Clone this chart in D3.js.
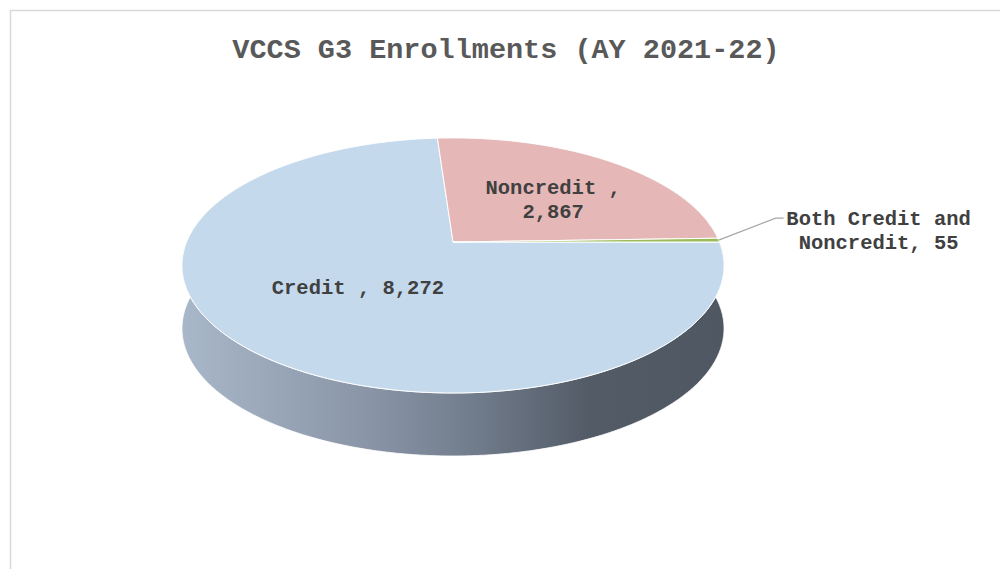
<!DOCTYPE html>
<html>
<head>
<meta charset="utf-8">
<script src="https://cdn.jsdelivr.net/npm/d3@7"></script>
<style>
  body { margin: 0; background: #fff; }
  svg { display: block; }
</style>
</head>
<body>
<svg id="chart" width="1000" height="569"></svg>
<script>
// data
const categories = ["Credit ", "Noncredit ", "Both Credit and Noncredit"]
const values = [8272, 2867, 55]
const labelLines = [["Credit , 8,272"], ["Noncredit ,", "2,867"], ["Both Credit and", "Noncredit, 55"]]
const title = "VCCS G3 Enrollments (AY 2021-22)"

const colors = ["#C5D9ED", "#E5B8B7", "#9BBB59"]

const svg = d3.select("#chart")
const width = +svg.attr("width")
const height = +svg.attr("height")

// chart frame
svg.append("rect")
  .attr("x", 10.5).attr("y", 10.5)
  .attr("width", width + 20).attr("height", height + 20)
  .attr("fill", "#fff")
  .attr("stroke", "#D9D9D9")
  .attr("stroke-width", 1.5)

svg.append("text")
  .attr("x", 506).attr("y", 58)
  .attr("text-anchor", "middle")
  .attr("font-family", "'Courier New', 'Liberation Mono', monospace")
  .attr("font-weight", "bold")
  .attr("font-size", "28.5px")
  .attr("fill", "#595959")
  .text(title)

// simple perspective camera for the top of the 3d pie
const cx = 453, cy = 242
const a = 266.4          // screen radius at the pie centre depth
const k = 0.184          // perspective strength
const phi = Math.asin(0.4625)
const depthPx = 63       // wall height on screen
const dist = Math.cos(phi) / k
const F = a * dist

function proj(theta, r, drop) {
  const xn = r * Math.sin(theta)
  const z = -r * Math.cos(theta)
  const depth = dist - z * Math.cos(phi)
  return [cx + F * xn / depth, cy + F * z * Math.sin(phi) / depth + drop]
}

const pie = d3.pie().sort(null)
  .startAngle(Math.PI / 2)
  .endAngle(Math.PI / 2 + 2 * Math.PI)
const arcs = pie(values)

const line = d3.line()

function arcPoints(a0, a1, drop) {
  const n = Math.max(2, Math.ceil(Math.abs(a1 - a0) / 0.01))
  return d3.range(n + 1).map(i => proj(a0 + (a1 - a0) * i / n, 1, drop))
}

// side gradient
const defs = svg.append("defs")
const grad = defs.append("linearGradient")
  .attr("id", "side")
  .attr("gradientUnits", "userSpaceOnUse")
  .attr("x1", cx - a * 1.02).attr("x2", cx + a * 1.02)
  .attr("y1", 0).attr("y2", 0)
grad.selectAll("stop")
  .data([[0, "#A9B7CA"], [0.35, "#8995A6"], [0.55, "#6F7A8A"], [0.75, "#535B67"], [1, "#4F5762"]])
  .enter().append("stop")
  .attr("offset", d => d[0])
  .attr("stop-color", d => d[1])

// outer wall (front half, belongs to the credit slice)
const s0 = Math.PI / 3, s1 = Math.PI * 5 / 3
const wallPts = arcPoints(s0, s1, 0).concat(arcPoints(s1, s0, depthPx))
svg.append("path")
  .attr("d", line(wallPts) + "Z")
  .attr("fill", "url(#side)")
  .attr("stroke", "#fff")
  .attr("stroke-width", 1)
  .attr("stroke-opacity", 0.8)

// top faces
svg.append("g")
  .selectAll("path")
  .data(arcs)
  .enter()
  .append("path")
  .attr("d", d => line([proj(0, 0, 0)].concat(arcPoints(d.startAngle, d.endAngle, 0))) + "Z")
  .attr("fill", (d, i) => colors[i])
  .attr("stroke", "#fff")
  .attr("stroke-width", 1)
  .attr("stroke-linejoin", "round")

// data labels
const font = "'Courier New', 'Liberation Mono', monospace"
const inside = [
  { i: 0, r: 0.48, da: 0.02, dy: 7 },
  { i: 1, r: 0.51, da: 0.16, dy: 1 }
]
inside.forEach(l => {
  const d = arcs[l.i]
  const mid = (d.startAngle + d.endAngle) / 2 + l.da
  const p = proj(mid, l.r, 0)
  const t = svg.append("text")
    .attr("text-anchor", "middle")
    .attr("font-family", font)
    .attr("font-weight", "bold")
    .attr("font-size", "20.5px")
    .attr("fill", "#404040")
  const lines = labelLines[l.i]
  lines.forEach((s, j) => {
    t.append("tspan")
      .attr("x", p[0])
      .attr("y", p[1] + l.dy + (j - (lines.length - 1) / 2) * 23.5)
      .text(s)
  })
})

// outside label with leader
const both = arcs[2]
const rim = proj((both.startAngle + both.endAngle) / 2, 1, 0)
const elbow = [rim[0] + 57, rim[1] - 22]
svg.append("path")
  .attr("d", line([rim, elbow, [elbow[0] + 8, elbow[1]]]))
  .attr("fill", "none")
  .attr("stroke", "#A6A6A6")
  .attr("stroke-width", 1.2)

const bt = svg.append("text")
  .attr("text-anchor", "middle")
  .attr("font-family", font)
  .attr("font-weight", "bold")
  .attr("font-size", "20.5px")
  .attr("fill", "#404040")
labelLines[2].forEach((s, j) => {
  bt.append("tspan")
    .attr("x", elbow[0] + 103)
    .attr("y", elbow[1] + 7 + j * 24)
    .text(s)
})
</script>
</body>
</html>
